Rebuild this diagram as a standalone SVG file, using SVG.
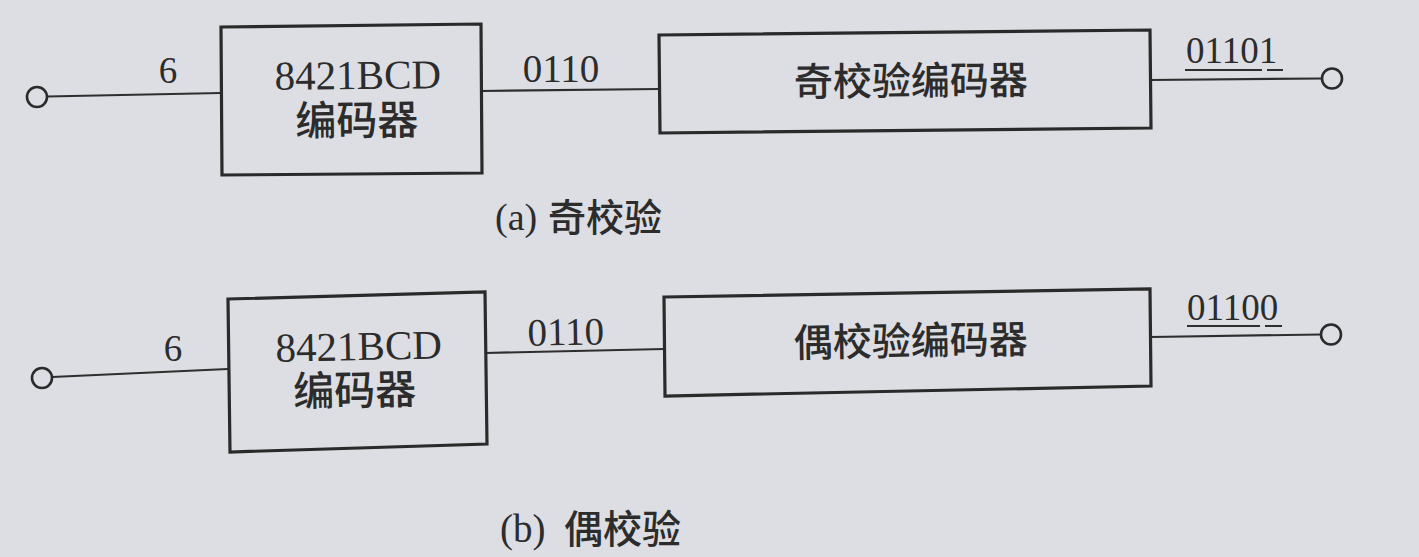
<svg xmlns="http://www.w3.org/2000/svg" width="1419" height="557" viewBox="0 0 1419 557">
<style>
.bg{fill:#dddee3}
.box{fill:none;stroke:#2a2a2a;stroke-width:3.2;stroke-linejoin:miter}
.wire{fill:none;stroke:#2e2e2e;stroke-width:2.2}
.term{fill:#dddee3;stroke:#2a2a2a;stroke-width:2.6}
.ul{stroke:#2e2e2e;stroke-width:2}
.t{font-family:"Liberation Serif","Noto Sans CJK SC",serif;fill:#2c2c2c}
.c{font-family:"Noto Sans CJK SC","Liberation Sans",sans-serif;fill:#2c2c2c;font-weight:500}
</style>
<rect class="bg" x="0" y="0" width="1419" height="557"/>

<g id="connectors">
  <line class="wire" x1="47" y1="96.5" x2="221" y2="93"/>
  <line class="wire" x1="481" y1="91" x2="659" y2="89"/>
  <line class="wire" x1="1150" y1="80" x2="1322" y2="78.5"/>
  <line class="wire" x1="52" y1="377" x2="228" y2="369"/>
  <line class="wire" x1="486" y1="353" x2="664" y2="349"/>
  <line class="wire" x1="1151" y1="337" x2="1321" y2="334.5"/>
</g>

<g id="in-a">
  <circle class="term" cx="37" cy="97" r="10"/>
  <text class="t" x="168" y="83" font-size="37" text-anchor="middle">6</text>
</g>
<g id="bcd-a">
  <polygon class="box" points="221,27 481,24 482,173 222,175"/>
  <text class="t" x="358" y="89" font-size="41" text-anchor="middle" transform="rotate(-0.6 358 89)">8421BCD</text>
  <text class="c" x="357" y="135" font-size="41" text-anchor="middle" transform="rotate(-0.6 357 135)">编码器</text>
  <text class="t" x="561" y="82" font-size="39" text-anchor="middle">0110</text>
</g>
<g id="parity-a">
  <polygon class="box" points="659,35 1150,30 1151,128 660,133"/>
  <text class="c" x="911" y="95" font-size="39" text-anchor="middle" transform="rotate(-0.5 911 95)">奇校验编码器</text>
</g>
<g id="out-a">
  <circle class="term" cx="1332" cy="78.5" r="10"/>
  <text class="t" x="1186" y="63" font-size="37">01101</text>
  <line class="ul" x1="1185" y1="70" x2="1262" y2="70"/>
  <line class="ul" x1="1267" y1="70" x2="1283" y2="70"/>
</g>
<g id="caption-a">
  <text class="t" x="495" y="230" font-size="38">(a)</text>
  <text class="c" x="548" y="231" font-size="38">奇校验</text>
</g>

<g id="in-b">
  <circle class="term" cx="42" cy="378" r="10"/>
  <text class="t" x="173" y="361" font-size="37" text-anchor="middle">6</text>
</g>
<g id="bcd-b">
  <polygon class="box" points="228,299 485,292 487,444 230,452"/>
  <text class="t" x="359" y="360" font-size="41" text-anchor="middle" transform="rotate(-1.2 359 360)">8421BCD</text>
  <text class="c" x="355" y="405" font-size="41" text-anchor="middle" transform="rotate(-1.2 355 405)">编码器</text>
  <text class="t" x="566" y="345" font-size="39" text-anchor="middle" transform="rotate(-1 566 345)">0110</text>
</g>
<g id="parity-b">
  <polygon class="box" points="664,297 1150,289 1151,386 665,396"/>
  <text class="c" x="911" y="355" font-size="39" text-anchor="middle" transform="rotate(-1 911 355)">偶校验编码器</text>
</g>
<g id="out-b">
  <circle class="term" cx="1331" cy="334.5" r="10"/>
  <text class="t" x="1187" y="320" font-size="37">01100</text>
  <line class="ul" x1="1187" y1="326" x2="1260" y2="326"/>
  <line class="ul" x1="1265" y1="326" x2="1282" y2="326"/>
</g>
<g id="caption-b">
  <text class="t" x="500" y="542" font-size="39">(b)</text>
  <text class="c" x="564" y="543" font-size="39">偶校验</text>
</g>
</svg>
